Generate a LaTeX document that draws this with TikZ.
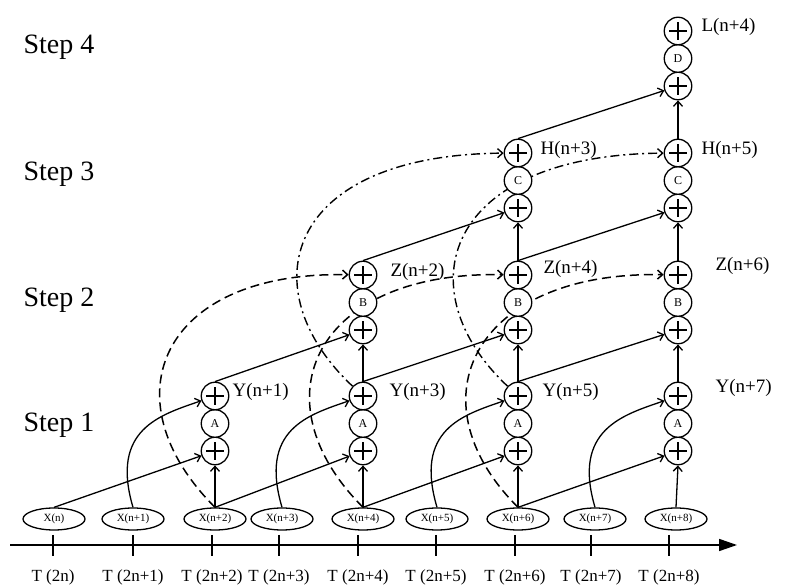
\documentclass[tikz,border=0pt]{standalone}
\usepackage{fontspec}
\setmainfont{Liberation Serif}
\usetikzlibrary{shapes.geometric, arrows.meta, backgrounds}

\begin{document}
\begin{tikzpicture}[x=1pt, y=1pt,
    adder/.style={circle, draw, fill=white, line width=1.3pt, minimum size=27.5pt, inner sep=0pt,
      path picture={\draw[line width=1.5pt]
        ([xshift=-9pt]path picture bounding box.center) -- ([xshift=9pt]path picture bounding box.center)
        ([yshift=-9pt]path picture bounding box.center) -- ([yshift=9pt]path picture bounding box.center);}},
    filt/.style={circle, draw, fill=white, line width=1.3pt, minimum size=27.5pt, inner sep=0pt,
      font=\fontsize{12}{12}\selectfont},
    xsample/.style={ellipse, draw, fill=white, line width=1.3pt, minimum width=62pt, minimum height=22pt,
      inner sep=0pt, font=\fontsize{11}{11}\selectfont},
    outlabel/.style={anchor=base west, font=\fontsize{19}{19}\selectfont},
    steplabel/.style={anchor=base west, font=\fontsize{28}{28}\selectfont},
    tlabel/.style={anchor=base, font=\fontsize{17}{17}\selectfont},
    conn/.style={line width=1.3pt, -{Straight Barb[length=5pt,width=9pt]}},
    upd/.style={conn, line width=1.5pt, dash pattern=on 9pt off 5pt},
    upddot/.style={conn, line width=1.4pt, dash pattern=on 9pt off 4pt on 2pt off 4pt}]

    \useasboundingbox (0,0) rectangle (805,588);

    % Step labels
    \node[steplabel] (st4) at (20,534) {Step 4};
    \node[steplabel] (st3) at (20,407) {Step 3};
    \node[steplabel] (st2) at (20,281) {Step 2};
    \node[steplabel] (st1) at (20,156) {Step 1};

    % Time axis
    \coordinate (axs) at (10,43);
    \coordinate (axe) at (737,43);
    \draw[line width=1.6pt, -{Triangle[length=18pt,width=12pt]}] (axs) -- (axe);
    \draw[line width=1.4pt] (53,53) -- (53,32);
    \draw[line width=1.4pt] (133,53) -- (133,32);
    \draw[line width=1.4pt] (212,53) -- (212,32);
    \draw[line width=1.4pt] (279,53) -- (279,32);
    \draw[line width=1.4pt] (358,53) -- (358,32);
    \draw[line width=1.4pt] (436,53) -- (436,32);
    \draw[line width=1.4pt] (515,53) -- (515,32);
    \draw[line width=1.4pt] (591,53) -- (591,32);
    \draw[line width=1.4pt] (669,53) -- (669,32);
    \node[tlabel] (t0) at (53,6) {T (2n)};
    \node[tlabel] (t1) at (133,6) {T (2n+1)};
    \node[tlabel] (t2) at (212,6) {T (2n+2)};
    \node[tlabel] (t3) at (279,6) {T (2n+3)};
    \node[tlabel] (t4) at (358,6) {T (2n+4)};
    \node[tlabel] (t5) at (436,6) {T (2n+5)};
    \node[tlabel] (t6) at (515,6) {T (2n+6)};
    \node[tlabel] (t7) at (591,6) {T (2n+7)};
    \node[tlabel] (t8) at (669,6) {T (2n+8)};

    % Input samples
    \node[xsample] (x0) at (54,69) {X(n)};
    \node[xsample] (x1) at (133,69) {X(n+1)};
    \node[xsample] (x2) at (215,69) {X(n+2)};
    \node[xsample] (x3) at (282,69) {X(n+3)};
    \node[xsample] (x4) at (363,69) {X(n+4)};
    \node[xsample] (x5) at (437,69) {X(n+5)};
    \node[xsample] (x6) at (518,69) {X(n+6)};
    \node[xsample] (x7) at (595,69) {X(n+7)};
    \node[xsample] (x8) at (676,69) {X(n+8)};

    % Step 1
    \node[adder] (y1s) at (215,137) {};
    \node[filt] (y1p) at (215,164.5) {A};
    \node[adder] (y1) at (215,192) {};
    \node[adder] (y3s) at (363,137) {};
    \node[filt] (y3p) at (363,164.5) {A};
    \node[adder] (y3) at (363,192) {};
    \node[adder] (y5s) at (518,137) {};
    \node[filt] (y5p) at (518,164.5) {A};
    \node[adder] (y5) at (518,192) {};
    \node[adder] (y7s) at (678,137) {};
    \node[filt] (y7p) at (678,164.5) {A};
    \node[adder] (y7) at (678,192) {};

    % Step 2
    \node[adder] (z2s) at (363,258) {};
    \node[filt] (z2p) at (363,285.5) {B};
    \node[adder] (z2) at (363,313) {};
    \node[adder] (z4s) at (518,258) {};
    \node[filt] (z4p) at (518,285.5) {B};
    \node[adder] (z4) at (518,313) {};
    \node[adder] (z6s) at (678,258) {};
    \node[filt] (z6p) at (678,285.5) {B};
    \node[adder] (z6) at (678,313) {};

    % Step 3
    \node[adder] (h3s) at (518,380) {};
    \node[filt] (h3p) at (518,407.5) {C};
    \node[adder] (h3) at (518,435) {};
    \node[adder] (h5s) at (678,380) {};
    \node[filt] (h5p) at (678,407.5) {C};
    \node[adder] (h5) at (678,435) {};

    % Step 4
    \node[adder] (l4s) at (678,502) {};
    \node[filt] (l4p) at (678,529.5) {D};
    \node[adder] (l4) at (678,557) {};

    % Output labels
    \node[outlabel] (ly1) at (229,191) {Y(n+1)};
    \node[outlabel] (ly3) at (386,191) {Y(n+3)};
    \node[outlabel] (ly5) at (539,191) {Y(n+5)};
    \node[outlabel] (ly7) at (712,195) {Y(n+7)};
    \node[outlabel] (lz2) at (387,311) {Z(n+2)};
    \node[outlabel] (lz4) at (540,314) {Z(n+4)};
    \node[outlabel] (lz6) at (712,317) {Z(n+6)};
    \node[outlabel] (lh3) at (537,433) {H(n+3)};
    \node[outlabel] (lh5) at (698,433) {H(n+5)};
    \node[outlabel] (ll4) at (698,556) {L(n+4)};

    \begin{scope}[on background layer]
        % Step 1 connections
        \draw[conn] (x0.north) -- (y1s);
        \draw[conn] (x2.north) -- (y1s.south);
        \draw[conn] (x1.north) .. controls +(-23,78) and +(-55,-19) .. (y1);
        \draw[conn] (x2.north) -- (y3s);
        \draw[conn] (x4.north) -- (y3s.south);
        \draw[conn] (x3.north) .. controls +(-23,78) and +(-55,-19) .. (y3);
        \draw[conn] (x4.north) -- (y5s);
        \draw[conn] (x6.north) -- (y5s.south);
        \draw[conn] (x5.north) .. controls +(-23,78) and +(-55,-19) .. (y5);
        \draw[conn] (x6.north) -- (y7s);
        \draw[conn] (x8.north) -- (y7s.south);
        \draw[conn] (x7.north) .. controls +(-23,78) and +(-55,-19) .. (y7);

        % Step 2 connections
        \draw[conn] (y1.north) -- (z2s);
        \draw[conn] (y3.north) -- (z2s.south);
        \draw[upd] (x2.north) .. controls +(-108,108) and +(-203,4) .. (z2);
        \draw[conn] (y3.north) -- (z4s);
        \draw[conn] (y5.north) -- (z4s.south);
        \draw[upd] (x4.north) .. controls +(-108,108) and +(-203,4) .. (z4);
        \draw[conn] (y5.north) -- (z6s);
        \draw[conn] (y7.north) -- (z6s.south);
        \draw[upd] (x6.north) .. controls +(-108,108) and +(-203,4) .. (z6);

        % Step 3 connections
        \draw[conn] (z2.north) -- (h3s);
        \draw[conn] (z4.north) -- (h3s.south);
        \draw[upddot] (y3) .. controls +(-113,106) and +(-235,-2) .. (h3);
        \draw[conn] (z4.north) -- (h5s);
        \draw[conn] (z6.north) -- (h5s.south);
        \draw[upddot] (y5) .. controls +(-113,106) and +(-235,-2) .. (h5);

        % Step 4 connections
        \draw[conn] (h3.north) -- (l4s);
        \draw[conn] (h5.north) -- (l4s.south);
    \end{scope}
\end{tikzpicture}
\end{document}
